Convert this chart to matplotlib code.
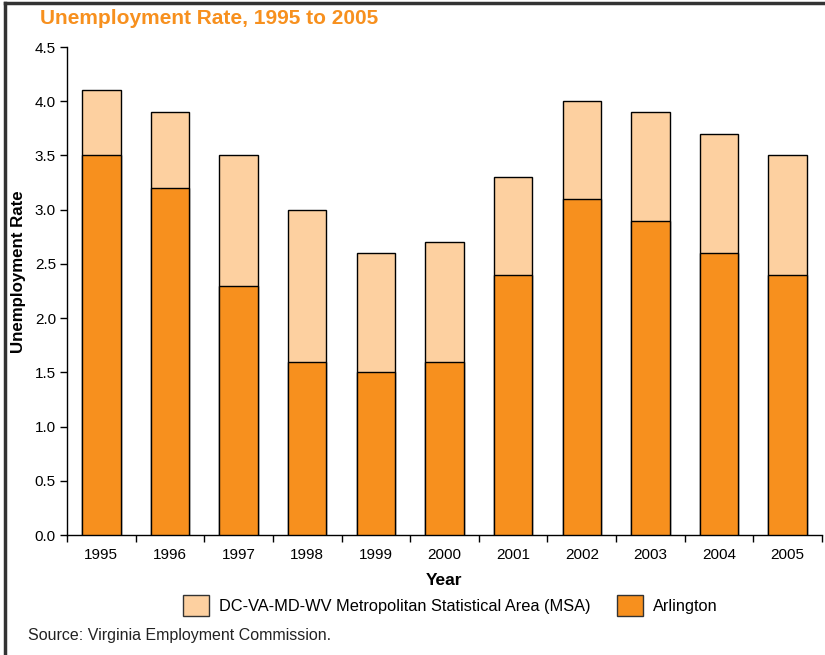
import numpy as np
import matplotlib.pyplot as plt
from matplotlib.patches import Patch
from matplotlib.lines import Line2D

years = ['1995', '1996', '1997', '1998', '1999', '2000', '2001', '2002', '2003', '2004', '2005']
msa = [4.1, 3.9, 3.5, 3.0, 2.6, 2.7, 3.3, 4.0, 3.9, 3.7, 3.5]
arlington = [3.5, 3.2, 2.3, 1.6, 1.5, 1.6, 2.4, 3.1, 2.9, 2.6, 2.4]

light = '#FDD0A0'
dark = '#F7901E'

plt.rcParams['font.family'] = ['Liberation Sans', 'DejaVu Sans']

fig = plt.figure(figsize=(8.25, 6.55), dpi=100)
ax = fig.add_axes([0.0812, 0.1832, 0.9152, 0.745])

x = np.arange(len(years))
ax.bar(x, msa, width=0.56, color=light, edgecolor='black', linewidth=1, zorder=2)
ax.bar(x, arlington, width=0.56, color=dark, edgecolor='black', linewidth=1, zorder=3)

ax.set_xlim(-0.5, len(years) - 0.5)
ax.set_ylim(0, 4.5)
ax.set_yticks(np.arange(0, 4.51, 0.5))
ax.set_yticklabels(['%.1f' % v for v in np.arange(0, 4.51, 0.5)])
ax.set_xticks(x)
ax.set_xticklabels(years)
ax.set_xticks(np.arange(-0.5, len(years), 1), minor=True)
ax.tick_params(axis='x', which='major', length=0, pad=9, labelsize=11)
ax.tick_params(axis='x', which='minor', length=5, direction='out', width=1)
ax.tick_params(axis='y', length=5, width=1, labelsize=11, pad=3)

for s in ['top', 'right']:
    ax.spines[s].set_visible(False)
for s in ['left', 'bottom']:
    ax.spines[s].set_linewidth(1)

ax.set_xlabel('Year', fontsize=12.5, fontweight='bold', labelpad=8)
ax.set_ylabel('Unemployment Rate', fontsize=12.2, fontweight='bold', va='center')
ax.yaxis.set_label_coords(-0.064, 0.54)

fig.text(0.048, 0.972, 'Unemployment Rate, 1995 to 2005', color=dark,
         fontsize=15, fontweight='bold', ha='left', va='center')

handles = [Patch(facecolor=light, edgecolor='#333333', linewidth=1),
           Patch(facecolor=dark, edgecolor='#333333', linewidth=1)]
fig.legend(handles, ['DC-VA-MD-WV Metropolitan Statistical Area (MSA)', 'Arlington'],
           loc='center', bbox_to_anchor=(0.546, 0.076), ncol=2, frameon=False,
           fontsize=11.8, handlelength=1.6, handleheight=1.6, columnspacing=1.6,
           handletextpad=0.6)

fig.text(0.034, 0.030, 'Source: Virginia Employment Commission.', fontsize=11.5,
         ha='left', va='center', color='#222222')

# frame lines at top and left
fig.add_artist(Line2D([0.006, 1.0], [0.995, 0.995], color='#333333', lw=2.5))
fig.add_artist(Line2D([0.006, 0.006], [0.0, 0.995], color='#333333', lw=2.5))

fig.savefig('out.png', dpi=100)
